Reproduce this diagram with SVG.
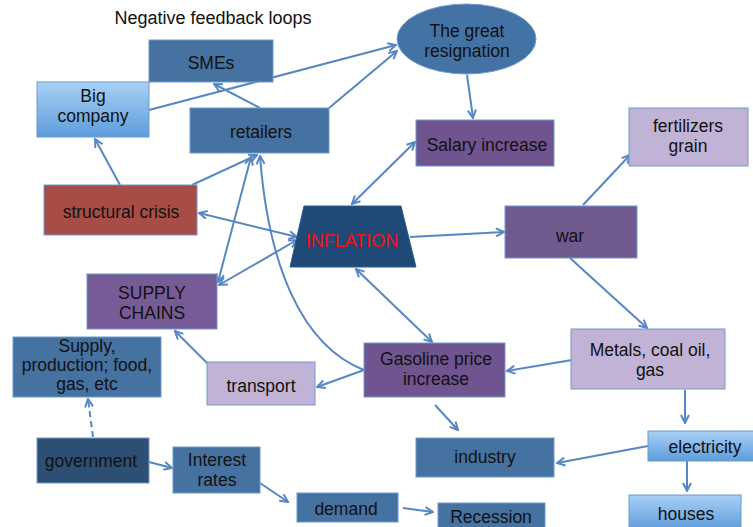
<svg xmlns="http://www.w3.org/2000/svg" width="753" height="527" viewBox="0 0 753 527">
<style>
text{font-family:"Liberation Sans",Arial,sans-serif;font-size:17.5px;fill:#111;text-anchor:middle}
.b{stroke:#6d9ad0;stroke-width:1}
.steel{fill:#4572a1}
.purple{fill:#705490}
.lilac{fill:#c1b3d5}
.lb{fill:url(#lbg)}
.c{fill:none;stroke:#5787c3;stroke-width:2}
.e{marker-end:url(#ah)}
.d{marker-start:url(#ah);marker-end:url(#ah)}
</style>
<defs>
<linearGradient id="lbg" x1="0" y1="0" x2="0" y2="1">
<stop offset="0" stop-color="#a9d1f5"/>
<stop offset="1" stop-color="#5d9cdb"/>
</linearGradient>
<marker id="ah" viewBox="0 0 10 10" refX="9" refY="5" markerWidth="10" markerHeight="10" markerUnits="userSpaceOnUse" orient="auto-start-reverse">
<path d="M1,1 L9,5 L1,9" fill="none" stroke="#5787c3" stroke-width="2"/>
</marker>
</defs>
<rect width="753" height="527" fill="#fff"/>
<text x="213" y="24" style="font-size:18px">Negative feedback loops</text>

<g id="connectors">
<line class="c e" x1="149" y1="110" x2="396" y2="45"/>
<line class="c e" x1="329" y1="108" x2="397" y2="51"/>
<line class="c e" x1="260" y1="108" x2="214" y2="84"/>
<line class="c e" x1="467" y1="75" x2="473" y2="118"/>
<line class="c d" x1="352" y1="204" x2="415" y2="142"/>
<line class="c d" x1="199" y1="213" x2="297" y2="237"/>
<line class="c d" x1="219" y1="285" x2="297" y2="240"/>
<line class="c e" x1="192" y1="185" x2="257" y2="155"/>
<line class="c e" x1="120" y1="185" x2="95" y2="139"/>
<line class="c d" x1="251" y1="157" x2="218" y2="282"/>
<path class="c e" d="M364,370 C300,345 268,262 260,156"/>
<line class="c e" x1="364" y1="370" x2="317" y2="387"/>
<line class="c e" x1="208" y1="364" x2="175" y2="331"/>
<line class="c d" x1="356" y1="269" x2="432" y2="342"/>
<line class="c e" x1="410" y1="237" x2="504" y2="232"/>
<line class="c e" x1="583" y1="205" x2="630" y2="155"/>
<line class="c e" x1="570" y1="258" x2="647" y2="328"/>
<line class="c e" x1="572" y1="360" x2="507" y2="371"/>
<line class="c e" x1="685" y1="390" x2="685" y2="423"/>
<line class="c e" x1="435" y1="405" x2="458" y2="430"/>
<line class="c e" x1="648" y1="446" x2="557" y2="463"/>
<line class="c e" x1="687" y1="461" x2="687" y2="491"/>
<line class="c e" x1="93" y1="437" x2="88" y2="399" stroke-dasharray="6,4"/>
<line class="c e" x1="149" y1="462" x2="172" y2="468"/>
<line class="c e" x1="260" y1="483" x2="288" y2="502"/>
<line class="c e" x1="403" y1="508" x2="433" y2="512"/>
</g>

<g id="smes"><rect class="steel b" x="149" y="40" width="124" height="42"/><text x="211" y="69">SMEs</text></g>
<g id="big-company"><rect class="lb b" x="37" y="82" width="112" height="55"/><text x="93" y="102">Big</text><text x="93" y="122">company</text></g>
<g id="retailers"><rect class="steel b" x="190" y="108" width="139" height="45"/><text x="261" y="138">retailers</text></g>
<g id="great-resignation"><ellipse cx="466.5" cy="39" rx="69.5" ry="35" fill="#4373a5" stroke="#6d9ad0"/><text x="467" y="37">The great</text><text x="467" y="57">resignation</text></g>
<g id="salary-increase"><rect class="purple b" x="416" y="120" width="138" height="46"/><text x="487" y="151">Salary increase</text></g>
<g id="fertilizers"><rect class="lilac b" x="629" y="108" width="119" height="58"/><text x="688" y="132">fertilizers</text><text x="688" y="152">grain</text></g>
<g id="structural-crisis"><rect x="44" y="185" width="153" height="50" fill="#a84d45" stroke="#6d9ad0"/><text x="121" y="218">structural crisis</text></g>
<g id="supply-chains"><rect x="87" y="274" width="130" height="55" fill="#775b96" stroke="#6d9ad0"/><text x="152" y="299">SUPPLY</text><text x="152" y="319">CHAINS</text></g>
<g id="inflation"><polygon points="304,206 401,206 416,267 290,267" fill="#1f4a78" stroke="#2a5a8e"/><text x="352" y="247" style="fill:#ff0d0d;font-size:18px">INFLATION</text></g>
<g id="war"><rect class="b" x="505" y="206" width="132" height="52" style="fill:#715a8f"/><text x="570" y="242">war</text></g>
<g id="metals"><rect class="lilac b" x="571" y="329" width="154" height="60"/><text x="650" y="356">Metals, coal oil,</text><text x="650" y="376">gas</text></g>
<g id="gasoline"><rect class="purple b" x="364" y="343" width="141" height="54"/><text x="436" y="365">Gasoline price</text><text x="436" y="385">increase</text></g>
<g id="transport"><rect class="lilac b" x="207" y="362" width="108" height="43"/><text x="261" y="392">transport</text></g>
<g id="supply-production"><rect class="steel b" x="13" y="337" width="148" height="60"/><text x="87" y="352">Supply,</text><text x="87" y="371">production; food,</text><text x="87" y="390">gas, etc</text></g>
<g id="government"><rect x="37" y="438" width="112" height="45" fill="#2e4f74" stroke="#6d9ad0"/><text x="91" y="467">government</text></g>
<g id="interest-rates"><rect class="steel b" x="173" y="447" width="87" height="46"/><text x="217" y="466">Interest</text><text x="217" y="486">rates</text></g>
<g id="demand"><rect class="steel b" x="297" y="493" width="101" height="29"/><text x="346" y="515">demand</text></g>
<g id="recession"><rect class="steel b" x="438" y="503" width="107" height="30"/><text x="491" y="523">Recession</text></g>
<g id="industry"><rect class="steel b" x="416" y="438" width="138" height="39"/><text x="485" y="463">industry</text></g>
<g id="electricity"><rect class="lb b" x="648" y="431" width="110" height="30"/><text x="705" y="453">electricity</text></g>
<g id="houses"><rect class="lb b" x="629" y="495" width="112" height="35"/><text x="686" y="520">houses</text></g>
</svg>
